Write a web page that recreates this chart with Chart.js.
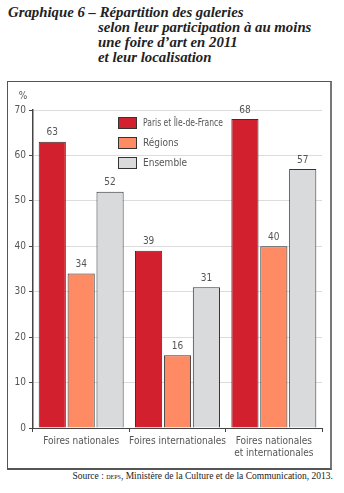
<!DOCTYPE html>
<html>
<head>
<meta charset="utf-8">
<script src="https://cdn.jsdelivr.net/npm/chart.js@4"></script>
<style>
  body { margin: 0; width: 344px; height: 493px; background: #fff; position: relative; overflow: hidden; }
  .title { position: absolute; left: 8px; top: 5px; font-family: "Liberation Serif", serif; font-weight: bold; font-style: italic; font-size: 14.8px; line-height: 15px; color: #222; }
  .title .rest { padding-left: 90px; }
  .frame { position: absolute; left: 7px; top: 81px; width: 322px; height: 386px; border: 1px solid #555; border-right: 2px solid #777; border-bottom: 2px solid #555; }
  .frame canvas { position: absolute; left: 0; top: 0; }
  .source { position: absolute; right: 11px; top: 471px; font-family: "Liberation Serif", serif; font-size: 9.5px; color: #222; }
  .source .sc { font-variant: small-caps; font-size: 9px; }
</style>
</head>
<body>
<div class="title">Graphique 6 – Répartition des galeries<br><span class="rest">selon leur participation à au moins</span><br><span class="rest">une foire d’art en 2011</span><br><span class="rest">et leur localisation</span></div>
<div class="frame"><canvas id="chart" width="322" height="386"></canvas></div>
<div class="source">Source : <span class="sc">deps</span>, Ministère de la Culture et de la Communication, 2013.</div>
<script>
// categories and values
const categories = [["Foires nationales"], ["Foires internationales"], ["Foires nationales", "et internationales"]];
const parisIdf = [63, 39, 68];
const regions = [34, 16, 40];
const ensemble = [52, 31, 57];
const seriesNames = ["Paris et Île-de-France", "Régions", "Ensemble"];
const yTicks = [0, 10, 20, 30, 40, 50, 60, 70];

const narrow = "'DejaVu Sans Condensed', 'Liberation Sans Narrow', sans-serif";
const textGray = '#555';

// value labels above each bar
const valueLabels = {
    id: 'valueLabels',
    afterDatasetsDraw(chart) {
        const ctx = chart.ctx;
        ctx.save();
        ctx.font = '10px ' + narrow;
        ctx.fillStyle = textGray;
        ctx.textAlign = 'center';
        ctx.textBaseline = 'bottom';
        chart.data.datasets.forEach((ds, i) => {
            chart.getDatasetMeta(i).data.forEach((bar, j) => {
                ctx.fillText(ds.data[j], bar.x, bar.y - 4);
            });
        });
        ctx.restore();
    }
};

// legend inside the plot + the "%" unit
const innerLegend = {
    id: 'innerLegend',
    afterDraw(chart) {
        const ctx = chart.ctx;
        const area = chart.chartArea;
        ctx.save();
        ctx.font = '10px ' + narrow;
        ctx.fillStyle = textGray;
        ctx.textAlign = 'center';
        ctx.textBaseline = 'middle';
        ctx.fillText('%', area.left - 10, area.top - 14);
        ctx.textAlign = 'left';
        chart.data.datasets.forEach((ds, i) => {
            const x = area.left + 85;
            const y = area.top + 13 + i * 20;
            ctx.fillStyle = ds.backgroundColor;
            ctx.fillRect(x, y - 6, 19, 12);
            ctx.strokeStyle = '#333';
            ctx.lineWidth = 1;
            ctx.strokeRect(x + 0.5, y - 5.5, 18, 11);
            ctx.fillStyle = textGray;
            ctx.fillText(ds.label, x + 25, y, 80);
        });
        ctx.restore();
    }
};

new Chart(document.getElementById('chart'), {
    type: 'bar',
    data: {
        labels: categories,
        datasets: [
            { label: seriesNames[0], data: parisIdf, backgroundColor: '#d2202e' },
            { label: seriesNames[1], data: regions, backgroundColor: '#fe8b64' },
            { label: seriesNames[2], data: ensemble, backgroundColor: '#d9dadc' }
        ]
    },
    options: {
        responsive: false,
        animation: false,
        layout: { padding: { left: 0, right: 8, top: 28, bottom: 0 } },
        datasets: {
            bar: { borderColor: '#333', borderWidth: 1, categoryPercentage: 0.9, barPercentage: 0.94 }
        },
        plugins: {
            legend: { display: false },
            tooltip: { enabled: false }
        },
        scales: {
            x: {
                grid: { drawOnChartArea: false, drawTicks: true, tickLength: 4, tickColor: '#444', offset: true },
                border: { color: '#444', width: 1 },
                ticks: { color: textGray, font: { family: narrow, size: 10 }, padding: 3, maxRotation: 0, autoSkip: false },
                afterFit(scale) { scale.height = 40; }
            },
            y: {
                min: 0,
                max: 70,
                afterBuildTicks(scale) { scale.ticks = yTicks.map(v => ({ value: v })); },
                grid: { color: '#dcdcdc', tickColor: '#444', tickLength: 4, lineWidth: 1 },
                border: { color: '#444', width: 1.5 },
                ticks: { color: textGray, font: { family: narrow, size: 10 }, padding: 3 },
                afterFit(scale) { scale.width = 25; }
            }
        }
    },
    plugins: [valueLabels, innerLegend]
});
</script>
</body>
</html>
